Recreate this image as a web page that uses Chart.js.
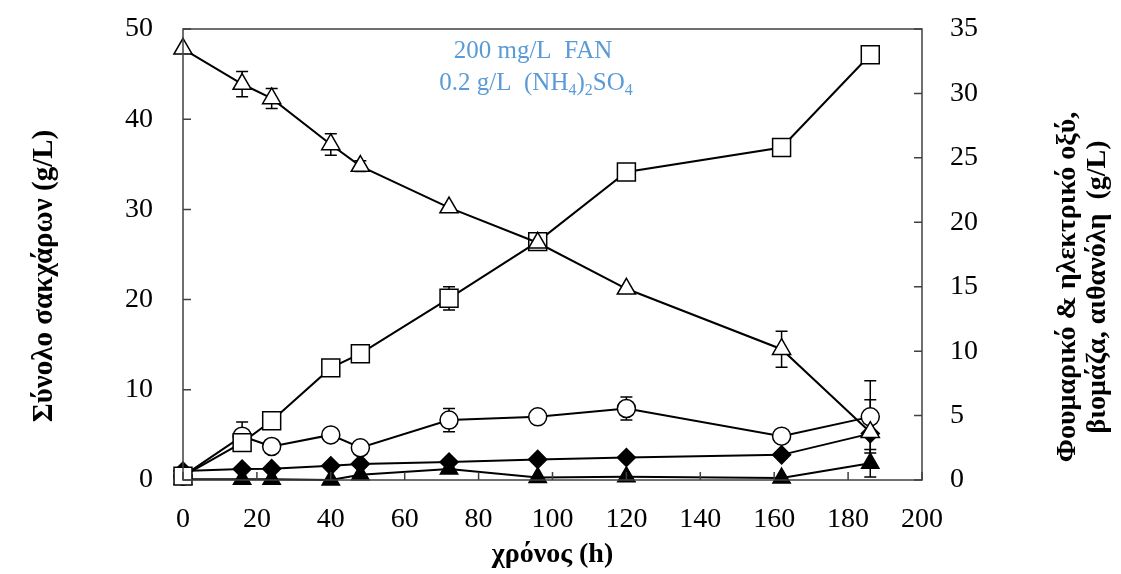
<!DOCTYPE html>
<html>
<head>
<meta charset="utf-8">
<script src="https://cdn.jsdelivr.net/npm/chart.js@4.4.0/dist/chart.umd.min.js"></script>
<style>
body { margin: 0; background: #fff; }
#wrap { width: 1121px; height: 574px; }
</style>
</head>
<body>
<div id="wrap"><canvas id="grafico" width="1121" height="574"></canvas></div>
<script>
// tempo (h)
const tempo = [0, 16, 24, 40, 48, 72, 96, 120, 162, 186];

// eixo esquerdo: açúcares totais (g/L)
const acucares = [47.8, 43.9, 42.3, 37.2, 34.8, 30.2, 26.3, 21.2, 14.5, 5.3];
const acucaresErro = [0, 1.4, 1.1, 1.2, 0.6, 0, 0, 0, 2.0, 3.6];

// eixo direito (g/L)
const fumarico = [0.3, 2.9, 4.6, 8.7, 9.8, 14.1, 18.5, 23.9, 25.8, 33.0];
const fumaricoErro = [0, 0.5, 0, 0, 0, 0.9, 0.3, 0, 0, 0];
const biomassa = [0.3, 3.4, 2.6, 3.5, 2.5, 4.65, 4.9, 5.55, 3.4, 4.9];
const biomassaErro = [0, 1.1, 0, 0, 0, 0.9, 0, 0.9, 0, 2.8];
const succinico = [0.7, 0.85, 0.88, 1.1, 1.25, 1.4, 1.6, 1.75, 1.95, 3.6];
const etanol = [0.05, 0.05, 0.05, 0, 0.4, 0.85, 0.2, 0.25, 0.15, 1.3];
const etanolErro = [0, 0, 0, 0, 0, 0, 0, 0, 0, 1.07];

const ticksX = [0, 20, 40, 60, 80, 100, 120, 140, 160, 180, 200];
const ticksEsq = [0, 10, 20, 30, 40, 50];
const ticksDir = [0, 5, 10, 15, 20, 25, 30, 35];

const fonte = '"Liberation Serif", "Times New Roman", serif';

function pontos(valores) {
    return tempo.map((t, i) => ({ x: t, y: valores[i] }));
}

function serie(valores, eixo, estilo, fundo, raio, erros) {
    return {
        data: pontos(valores),
        yAxisID: eixo,
        borderColor: '#000',
        borderWidth: 2,
        pointStyle: estilo,
        pointRadius: raio,
        pointBackgroundColor: fundo,
        pointBorderColor: '#000',
        pointBorderWidth: 1.5,
        clip: false,
        erros: erros
    };
}

// largura fixa do eixo e sem folga extra em cima/embaixo
function fixaLargura(largura) {
    return s => {
        s.width = largura;
        s.paddingTop = 0;
        s.paddingBottom = 0;
    };
}

// desenha bordas, marcas internas, barras de erro e textos
const extras = {
    id: 'extras',
    beforeDatasetsDraw(chart) {
        const ctx = chart.ctx;
        const xs = chart.scales.x;
        ctx.save();
        ctx.strokeStyle = '#000';
        ctx.lineWidth = 1.5;
        chart.data.datasets.forEach(ds => {
            if (!ds.erros) return;
            const ys = chart.scales[ds.yAxisID];
            ds.data.forEach((p, i) => {
                const e = ds.erros[i];
                if (!e) return;
                const px = xs.getPixelForValue(p.x);
                const y1 = ys.getPixelForValue(p.y + e);
                const y2 = ys.getPixelForValue(p.y - e);
                ctx.beginPath();
                ctx.moveTo(px, y1); ctx.lineTo(px, y2);
                ctx.moveTo(px - 6, y1); ctx.lineTo(px + 6, y1);
                ctx.moveTo(px - 6, y2); ctx.lineTo(px + 6, y2);
                ctx.stroke();
            });
        });
        ctx.restore();
    },
    afterDraw(chart) {
        const ctx = chart.ctx;
        const a = chart.chartArea;
        const xs = chart.scales.x, yl = chart.scales.y, yr = chart.scales.y1;
        ctx.save();
        ctx.strokeStyle = '#404040';
        ctx.lineWidth = 1.5;
        ctx.strokeRect(a.left, a.top, a.right - a.left, a.bottom - a.top);
        ctx.beginPath();
        ticksX.forEach(v => {
            const px = xs.getPixelForValue(v);
            ctx.moveTo(px, a.bottom); ctx.lineTo(px, a.bottom - 8);
        });
        ticksEsq.forEach(v => {
            const py = yl.getPixelForValue(v);
            ctx.moveTo(a.left, py); ctx.lineTo(a.left + 8, py);
        });
        ticksDir.forEach(v => {
            const py = yr.getPixelForValue(v);
            ctx.moveTo(a.right, py); ctx.lineTo(a.right - 8, py);
        });
        ctx.stroke();

        // títulos dos eixos
        ctx.fillStyle = '#000';
        ctx.textAlign = 'center';
        ctx.textBaseline = 'middle';
        ctx.font = 'bold 28px ' + fonte;
        ctx.fillText('χρόνος (h)', (a.left + a.right) / 2, 555);

        ctx.save();
        ctx.translate(45, 276);
        ctx.rotate(-Math.PI / 2);
        ctx.font = 'bold 29px ' + fonte;
        ctx.fillText('Σύνολο σακχάρων (g/L)', 0, 0);
        ctx.restore();

        ctx.save();
        ctx.translate(1068, 287);
        ctx.rotate(-Math.PI / 2);
        ctx.fillText('Φουμαρικό & ηλεκτρικό οξύ,', 0, 0);
        ctx.fillText('βιομάζα, αιθανόλη  (g/L)', 0, 30);
        ctx.restore();

        // anotação com índices
        ctx.fillStyle = '#5B9BD5';
        ctx.textAlign = 'left';
        ctx.textBaseline = 'alphabetic';
        const linhas = [
            { y: 58, centro: 533, partes: [['200 mg/L  FAN', 0]] },
            { y: 90, centro: 536, partes: [['0.2 g/L  (NH', 0], ['4', 1], [')', 0], ['2', 1], ['SO', 0], ['4', 1]] }
        ];
        linhas.forEach(l => {
            let largura = 0;
            l.partes.forEach(([t, sub]) => {
                ctx.font = (sub ? '16px ' : '25px ') + fonte;
                largura += ctx.measureText(t).width;
            });
            let x = l.centro - largura / 2;
            l.partes.forEach(([t, sub]) => {
                ctx.font = (sub ? '16px ' : '25px ') + fonte;
                ctx.fillText(t, x, l.y + (sub ? 5 : 0));
                x += ctx.measureText(t).width;
            });
        });
        ctx.restore();
    }
};

const ctx = document.getElementById('grafico').getContext('2d');
new Chart(ctx, {
    type: 'line',
    data: {
        datasets: [
            serie(acucares, 'y', 'triangle', '#fff', 10.5, acucaresErro),
            serie(fumarico, 'y1', 'rect', '#fff', 12.7, fumaricoErro),
            serie(biomassa, 'y1', 'circle', '#fff', 9, biomassaErro),
            serie(succinico, 'y1', 'rectRot', '#000', 9, null),
            serie(etanol, 'y1', 'triangle', '#000', 10, etanolErro)
        ]
    },
    options: {
        responsive: false,
        animation: false,
        layout: { padding: { top: 29, left: 0, right: 0, bottom: 0 } },
        plugins: {
            legend: { display: false },
            tooltip: { enabled: false }
        },
        scales: {
            x: {
                type: 'linear',
                min: 0, max: 200,
                afterFit: s => { s.height = 94; },
                afterBuildTicks: s => { s.ticks = ticksX.map(v => ({ value: v })); },
                grid: { display: false, drawTicks: false },
                border: { display: false },
                ticks: { color: '#000', padding: 23, font: { family: fonte, size: 28 } }
            },
            y: {
                position: 'left',
                min: 0, max: 50,
                afterFit: fixaLargura(183),
                afterBuildTicks: s => { s.ticks = ticksEsq.map(v => ({ value: v })); },
                grid: { display: false, drawTicks: false },
                border: { display: false },
                ticks: { color: '#000', padding: 30, font: { family: fonte, size: 28 } }
            },
            y1: {
                position: 'right',
                min: 0, max: 35,
                afterFit: fixaLargura(199),
                afterBuildTicks: s => { s.ticks = ticksDir.map(v => ({ value: v })); },
                grid: { display: false, drawTicks: false },
                border: { display: false },
                ticks: { color: '#000', padding: 28, font: { family: fonte, size: 28 } }
            }
        }
    },
    plugins: [extras]
});
</script>
</body>
</html>
